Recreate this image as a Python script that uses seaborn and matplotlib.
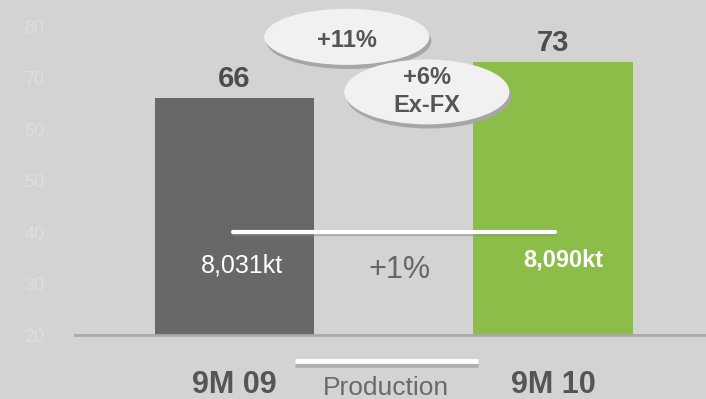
import matplotlib
matplotlib.use("Agg")
import matplotlib.pyplot as plt
import matplotlib.patches as mpatches
import seaborn as sns
import pandas as pd

# ---- data ----
categories = ["9M 09", "9M 10"]
values = [66, 73]
bar_colors = ["#67686a", "#8cbd48"]
volume_labels = ["8,031kt", "8,090kt"]
volume_change = "+1%"
growth_label = "+11%"
growth_exfx_label = "+6%\nEx-FX"
volume_title = "Production"
y_ticks = [20, 30, 40, 50, 60, 70, 80]

BG = "#d3d3d3"
sns.set_theme(style="white")
plt.rcParams["font.family"] = ["Liberation Sans", "DejaVu Sans"]

fig = plt.figure(figsize=(7.06, 3.99), dpi=100, facecolor=BG)
ax = fig.add_axes([0.1062, 0.1604, 0.8938, 0.7744])
ax.set_facecolor(BG)

df = pd.DataFrame({"period": categories, "value": values})
sns.barplot(data=df, x="period", y="value", hue="period", palette=bar_colors,
            width=0.5, legend=False, ax=ax, saturation=1, linewidth=0,
            edgecolor="none")

ax.set_ylim(20, 80)
ax.set_xlim(-0.5, 1.48)
ax.set_yticks(y_ticks)
ax.set_yticklabels([str(t) for t in y_ticks], color="#dedede", fontsize=13)
ax.tick_params(axis="y", length=0, pad=22)
ax.set_xticks([0, 1])
ax.set_xticklabels(categories, fontsize=22, fontweight="bold", color="#555555")
ax.tick_params(axis="x", length=0, pad=25)
ax.set_xlabel("")
ax.set_ylabel("")
for s in ["top", "right", "left"]:
    ax.spines[s].set_visible(False)
ax.spines["bottom"].set_color("#a9a9a9")
ax.spines["bottom"].set_linewidth(2)

# value labels
for cont in ax.containers:
    ax.bar_label(cont, fmt="%d", padding=4, fontsize=21, fontweight="bold",
                 color="#4d4d4d")

# volume line (with shadow)
ax.plot([0, 1.005], [39.6, 39.6], color="#8a8a8a", lw=3, alpha=0.5,
        solid_capstyle="round", zorder=4)
ax.plot([-0.005, 1.005], [40.0, 40.0], color="white", lw=3,
        solid_capstyle="round", zorder=5)

ax.text(0.024, 33.4, volume_labels[0], color="white", fontsize=18,
        ha="center", va="center", zorder=6)
ax.text(1.031, 34.6, volume_labels[1], color="white", fontsize=17,
        fontweight="bold", ha="center", va="center", zorder=6)
ax.text(0.52, 32.6, volume_change, color="#666666", fontsize=22,
        ha="center", va="center", zorder=6)

# production label with underline bar
ax.plot([0.19, 0.7645], [14.2, 14.2], color="#b0b0b0", lw=3.5,
        clip_on=False, zorder=4, solid_capstyle="butt")
ax.plot([0.19, 0.7645], [15.0, 15.0], color="white", lw=3.5,
        clip_on=False, zorder=5, solid_capstyle="butt")
ax.text(0.476, 8.3, volume_title, color="#6a6a6a", fontsize=19,
        ha="center", va="baseline", clip_on=False)

# ellipses
def bubble(xc, yc, w, h, z):
    sh = mpatches.Ellipse((xc + 0.006, yc - 0.8), w, h, facecolor="#a6a6a6",
                          edgecolor="none", zorder=z, clip_on=False)
    el = mpatches.Ellipse((xc, yc), w, h, facecolor="#f1f1f1",
                          edgecolor="none", zorder=z + 0.1, clip_on=False)
    ax.add_patch(sh)
    ax.add_patch(el)

bubble(0.353, 77.9, 0.518, 10.9, 7)
ax.text(0.353, 77.1, growth_label, fontsize=17, fontweight="bold",
        color="#555555", ha="center", va="center", zorder=7.5)
bubble(0.604, 67.2, 0.518, 12.6, 8)
ax.text(0.604, 67.3, growth_exfx_label, fontsize=17, fontweight="bold",
        color="#555555", ha="center", va="center", zorder=8.5,
        linespacing=1.25)

fig.savefig("out.png", dpi=100, facecolor=BG)
